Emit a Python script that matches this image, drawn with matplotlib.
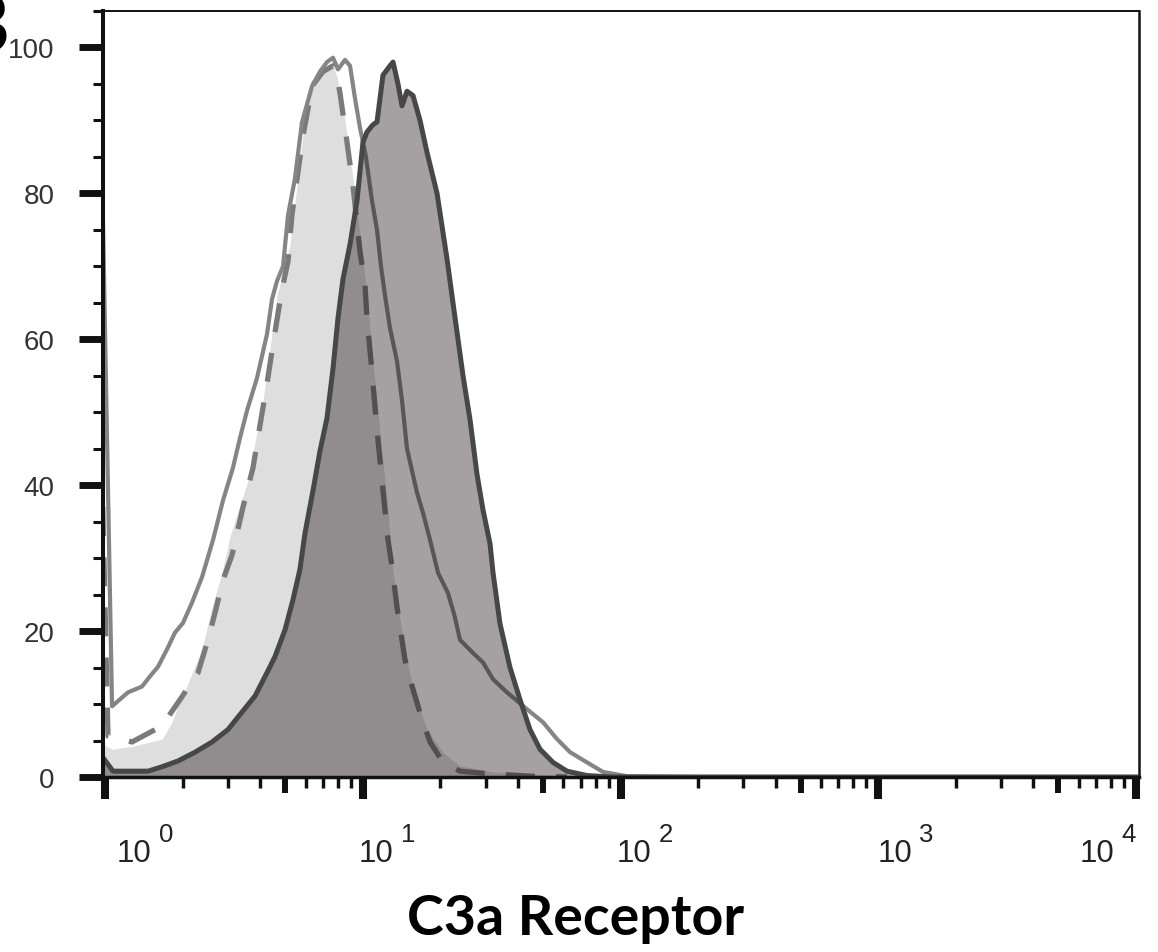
import numpy as np
import matplotlib.pyplot as plt
from matplotlib.ticker import FixedLocator, NullFormatter, NullLocator
from matplotlib.transforms import offset_copy

plt.rcParams['font.family'] = ['Liberation Sans', 'DejaVu Sans']

# solid grey line (unfilled)
B_x = [0.98, 1.065, 1.228, 1.391, 1.495, 1.605, 1.740, 1.869, 2.006, 2.175, 2.379, 2.625,
       2.869, 3.137, 3.341, 3.555, 3.888, 4.251, 4.446, 4.650, 4.906, 5.129, 5.454, 5.808,
       6.357, 6.826, 7.265, 7.667, 8.016, 8.534, 8.925, 9.332, 9.757, 10.29, 10.86, 11.36,
       11.77, 12.20, 12.76, 13.58, 14.20, 14.85, 16.23, 17.13, 18.24, 19.59, 21.42, 22.74,
       23.84, 26.77, 29.28, 32.02, 36.28, 43.35, 50.06, 56.72, 63.73, 74.13, 85.51, 105.97,
       200, 10000]
B_y = [78, 9.7, 11.6, 12.4, 13.8, 15.1, 17.5, 19.8, 21.1, 23.9, 27.4, 32.5,
       37.9, 42.4, 46.5, 50.2, 54.7, 60.7, 65.5, 68, 70, 77, 82, 89.7,
       94.7, 96.7, 98, 98.6, 97, 98.3, 97.5, 93, 89, 85, 79, 75,
       70, 66, 61.5, 57, 51.6, 45, 39, 36.2, 32.5, 28, 25.2, 22,
       18.8, 17, 15.7, 13.4, 11.6, 9.3, 7.5, 5.2, 3.4, 2, 0.7, 0.1,
       0, 0]

# dashed line
A_x = [0.98, 1.027, 1.273, 1.664, 1.989, 2.296, 2.509, 2.672, 2.869, 3.109, 3.252, 3.431,
       3.752, 4.002, 4.251, 4.486, 4.775, 4.906, 5.129, 5.311, 5.860, 6.357, 7.014, 7.667,
       7.944, 8.163, 8.534, 8.925, 9.167, 9.757, 10.20, 10.38, 10.86, 11.36, 11.98, 12.53,
       12.99, 13.58, 14.58, 15.67, 16.98, 18.24, 20.49, 23.84, 32.02, 45.77, 62.01]
A_y = [37, 5.6, 4.8, 7, 11, 14.3, 18.8, 22.5, 27, 30.4, 33.4, 37,
       42.4, 48.4, 53.9, 59.3, 65.2, 67.5, 70.7, 77, 87.8, 94.7, 96.7, 97.5,
       96, 93.7, 89, 84, 81, 72, 67.5, 63, 55.5, 47.5, 39.3, 32.5,
       28.8, 23.3, 16.1, 12, 7.9, 4.8, 2, 0.8, 0.4, 0.1, 0]

# light filled histogram
D_x = [0.98, 1.065, 1.273, 1.664, 1.820, 1.954, 2.080, 2.379, 2.602, 2.844, 3.055, 3.555,
       4.103, 4.650, 5.221, 5.860, 6.357, 7.014, 7.667, 7.944, 8.163, 8.534, 8.925, 9.332,
       9.933, 10.38, 10.95, 11.67, 12.42, 13.11, 14.33, 15.67, 17.76, 20.49, 23.84, 32.02,
       58.25, 83.26]
D_y = [4.5, 3.8, 4.2, 5.2, 7.5, 10.6, 12.5, 17.5, 23.3, 28, 33, 40.2,
       51.6, 66, 73, 88, 94.7, 96.7, 97.5, 96, 94, 90, 85, 80,
       72, 66, 57, 47, 38, 28, 18.8, 12, 6.5, 3.4, 1.5, 0.7,
       0.2, 0]

# C3a receptor stained, dark filled
C_x = [0.98, 1.074, 1.468, 1.664, 1.920, 2.235, 2.602, 3.000, 3.401, 3.819, 4.251, 4.566,
       4.996, 5.362, 5.708, 5.968, 6.414, 6.826, 7.265, 7.667, 8.016, 8.385, 8.925, 9.500,
       10.02, 10.38, 10.95, 11.36, 11.98, 12.76, 13.11, 13.70, 14.20, 14.85, 15.67, 16.68,
       17.76, 19.42, 21.23, 22.39, 24.49, 26.07, 27.75, 29.28, 31.17, 32.02, 34.08, 37.27,
       40.75, 44.55, 48.73, 54.72, 62.01, 74.13, 93.53, 10000]
C_y = [2.7, 0.8, 0.8, 1.4, 2.2, 3.4, 4.8, 6.5, 8.9, 11.1, 14.3, 16.5,
       20.2, 24.3, 28.5, 33.4, 39.3, 44.7, 49.2, 56, 62.9, 68.3, 73, 79,
       87, 88.4, 89.4, 89.8, 96.2, 97.5, 98, 95, 92, 94, 93.4, 90,
       85.6, 80, 71, 65, 55, 49, 41.5, 36.6, 32, 28, 21, 15,
       10.6, 6.5, 3.8, 2, 0.8, 0.2, 0, 0]

decades = [1, 10, 100, 1000, 10000]
exponents = ['0', '1', '2', '3', '4']
label_dx = [13, -3, -3, 0, -55]
minor_x = [m * d for d in decades[:-1] for m in [2, 3, 4, 6, 7, 8, 9]]
fives_x = [5 * d for d in decades[:-1]]

W, H = 1158, 953
fig = plt.figure(figsize=(W / 100, H / 100), dpi=100)
ax = fig.add_axes([102.5 / W, 175 / H, (1139 - 102.5) / W, 766 / H])

ax.fill_between(D_x, D_y, color='#dedede', lw=0, zorder=1)
ax.plot(A_x, A_y, color='#7a7a7a', lw=3.8, dashes=(5.5, 4), zorder=2)
ax.plot(B_x, B_y, color='#858585', lw=3.0, zorder=3)
ax.fill_between(C_x, C_y, color=(0.08, 0.03, 0.055), alpha=0.38, lw=0, zorder=4)
ax.plot(C_x, C_y, color='#474747', lw=3.6, zorder=5)

ax.set_xscale('log')
ax.set_xlim(10 ** (-2.5 / 257.75), 10 ** (4 + 3 / 257.75))
ax.set_ylim(0, 105)

ax.xaxis.set_major_locator(FixedLocator(decades))
ax.xaxis.set_minor_locator(FixedLocator(minor_x))
ax.xaxis.set_major_formatter(NullFormatter())
ax.xaxis.set_minor_formatter(NullFormatter())
ax.tick_params(axis='x', which='major', length=16, width=5.8, color='#111')
ax.tick_params(axis='x', which='minor', length=7.7, width=2.5, color='#111')

sec = ax.secondary_xaxis('bottom')
sec.xaxis.set_major_locator(FixedLocator(fives_x))
sec.xaxis.set_minor_locator(NullLocator())
sec.xaxis.set_major_formatter(NullFormatter())
sec.tick_params(length=11.5, width=4.3, color='#111')
sec.spines['bottom'].set_visible(False)

ax.set_yticks([0, 20, 40, 60, 80, 100])
ax.set_yticks(np.arange(5, 106, 5), minor=True)
ax.tick_params(axis='y', which='major', length=17.3, width=5, pad=17,
               labelsize=20, labelcolor='#333', color='#111')
ax.tick_params(axis='y', which='minor', length=7.2, width=2.2, color='#111')

ax.spines['left'].set_linewidth(2.9)
ax.spines['bottom'].set_linewidth(2.5)
ax.spines['top'].set_linewidth(1.4)
ax.spines['right'].set_linewidth(1.8)
for s in ax.spines.values():
    s.set_color('#111')
    s.set_zorder(6)

for d, e, dx in zip(decades, exponents, label_dx):
    tr = offset_copy(ax.get_xaxis_transform(), fig=fig, x=dx - 1, y=-84, units='dots')
    ax.text(d, 0, '10', transform=tr, ha='left', va='baseline', fontsize=22.5, color='#222')
    tr2 = offset_copy(ax.get_xaxis_transform(), fig=fig, x=dx + 48, y=-64.5, units='dots')
    ax.text(d, 0, e, transform=tr2, ha='center', va='baseline', fontsize=18.5, color='#222')

fig.text(576 / W, 1 - 935 / H, 'C3a Receptor', ha='center', va='baseline',
         fontsize=40, fontweight='bold', family=['Lato', 'DejaVu Sans'])
fig.text(9 / W, 1 - 53 / H, 'B', ha='right', va='baseline',
         fontsize=60, fontweight='bold', family=['Lato', 'DejaVu Sans'])

fig.savefig('out.png', dpi=100)
